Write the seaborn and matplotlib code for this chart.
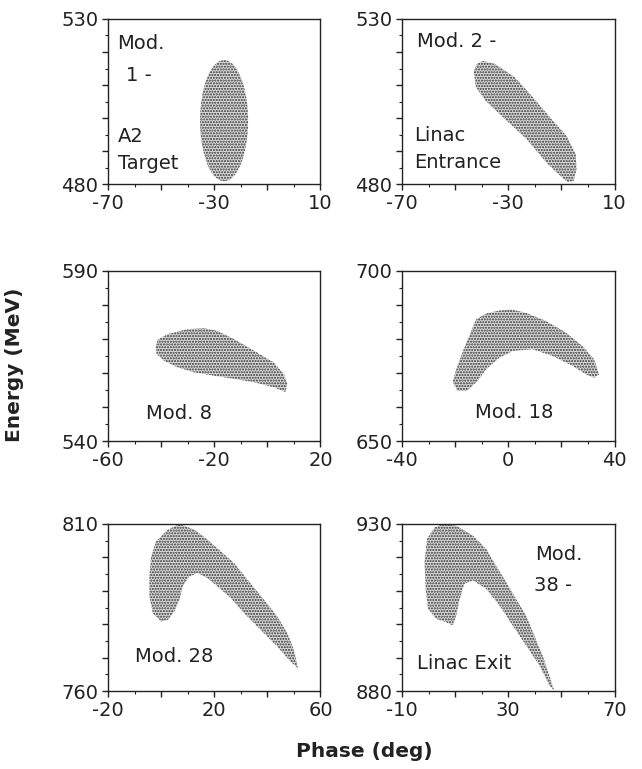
import matplotlib
matplotlib.use("Agg")
import matplotlib.pyplot as plt
from matplotlib.patches import Ellipse, Polygon
from matplotlib.ticker import FixedLocator, FuncFormatter
import seaborn as sns

sns.set_style("ticks")
plt.rcParams['font.family'] = ['DejaVu Sans']
plt.rcParams['hatch.linewidth'] = 1.0
plt.rcParams['hatch.color'] = '#333333'

# ---- data -------------------------------------------------------------
# axis ranges (phase, energy)
xlims = [(-70, 10), (-70, 10), (-60, 20), (-40, 40), (-20, 60), (-10, 70)]
ylims = [(480, 530), (480, 530), (540, 590), (650, 700), (760, 810), (880, 930)]

# Mod. 1 (A2 target): upright ellipse  (centre phase, centre energy, width, height)
mod1_ellipse = (-26.3, 499.2, 18.1, 36.7)

# Mod. 2 (linac entrance) boundary
mod2_phase = [-41.8, -43.0, -42.2, -38.5, -31.3, -23.1, -15.2, -9.9, -7.7,
              -5.4, -4.3, -4.6, -8.0, -14.4, -21.2, -27.6, -35.1, -39.6]
mod2_energy = [516.4, 514.2, 509.4, 505.2, 499.7, 493.6, 486.1, 482.1, 480.6,
               480.9, 484.5, 489.1, 494.5, 500.3, 506.7, 512.4, 516.4, 517.3]

# Mod. 8 boundary
mod8_phase = [-42.1, -41.4, -37.7, -30.2, -23.9, -18.9, -12.6, -5.1, 2.4, 6.2,
              7.5, 6.8, 2.4, -5.1, -12.6, -20.1, -27.6, -33.9, -38.9, -41.7]
mod8_energy = [567.5, 569.7, 571.4, 572.9, 573.2, 572.4, 570.0, 566.6, 563.1, 559.7,
               556.8, 554.4, 555.8, 557.3, 558.3, 559.2, 560.2, 561.7, 563.6, 565.6]

# Mod. 18 boundary
mod18_phase = [-20.2, -20.9, -19.0, -15.8, -12.1, -8.3, -3.3, 1.1, 6.7, 14.2, 21.7,
               28.0, 32.3, 34.2, 32.3, 29.2, 24.2, 16.7, 9.2, 1.7, -3.3, -8.3,
               -12.1, -15.8, -19.0]
mod18_energy = [666.2, 667.6, 672.5, 678.9, 685.8, 687.5, 688.4, 688.7, 687.7, 685.3,
                681.9, 677.9, 674.0, 669.6, 668.6, 669.6, 672.1, 675.0, 677.0, 676.5,
                674.5, 671.1, 667.2, 664.7, 664.7]

# Mod. 28 boundary
mod28_phase = [6.9, 12.5, 17.5, 22.5, 27.5, 32.5, 38.75, 43.75, 47.5, 50.0, 51.5,
               48.75, 43.75, 37.5, 31.25, 26.25, 21.25, 17.5, 13.75, 10.6, 8.1, 6.9,
               5.0, 2.5, 0.0, -3.1, -4.4, -4.4, -3.75, -1.9, 2.5]
mod28_energy = [810.0, 808.3, 805.3, 801.8, 798.3, 793.3, 787.3, 782.3, 777.3, 772.3,
                766.8, 768.8, 773.3, 778.3, 783.3, 787.8, 791.3, 793.8, 795.3, 794.3,
                791.3, 787.3, 783.8, 781.3, 780.8, 783.3, 788.3, 794.3, 800.3, 804.8,
                808.3]

# Mod. 38 (linac exit) boundary
mod38_phase = [5.4, 10.4, 16.7, 21.7, 25.4, 29.2, 32.9, 36.7, 39.8, 42.9, 45.4, 47.3,
               45.4, 41.7, 36.7, 31.7, 26.7, 21.7, 16.7, 13.5, 11.7, 10.4, 9.1, 6.6,
               2.9, -0.2, -1.1, -1.5, -0.6, 2.3]
mod38_energy = [930.0, 929.5, 926.5, 922.5, 917.5, 912.6, 907.6, 902.6, 896.6, 890.7,
                884.7, 880.2, 881.7, 887.7, 893.6, 899.6, 905.6, 910.6, 913.1, 912.1,
                907.6, 902.6, 899.6, 900.6, 901.6, 904.6, 910.6, 918.5, 925.5, 929.0]

# panel annotations: (text, phase, energy)
labels = [
    [("Mod.", -66.6, 522.5), ("1 -", -63.4, 512.9), ("A2", -66.3, 494.4), ("Target", -66.3, 486.3)],
    [("Mod. 2 -", -64.4, 523.1), ("Linac", -65.4, 494.6), ("Entrance", -65.4, 486.4)],
    [("Mod. 8", -45.8, 548.0)],
    [("Mod. 18", -12.7, 658.3)],
    [("Mod. 28", -10.0, 770.3)],
    [("Mod.", 40.2, 921.0), ("38 -", 39.8, 911.6), ("Linac Exit", -4.4, 888.2)],
]

shapes = [None,
          (mod2_phase, mod2_energy),
          (mod8_phase, mod8_energy),
          (mod18_phase, mod18_energy),
          (mod28_phase, mod28_energy),
          (mod38_phase, mod38_energy)]

# ---- layout -------------------------------------------------------------
fig = plt.figure(figsize=(6.42, 7.69), dpi=100)
col_left = [0.1682, 0.6262]
col_w = 0.331
row_bottom = [0.7607, 0.4265, 0.1014]
row_h = [0.2146, 0.2211, 0.2172]

fill_kw = dict(facecolor='#d9d9d9', edgecolor='#333333', hatch='......', linewidth=0)

for i in range(6):
    r, c = divmod(i, 2)
    ax = fig.add_axes([col_left[c], row_bottom[r], col_w, row_h[r]])
    x0, x1 = xlims[i]
    y0, y1 = ylims[i]
    ax.set_xlim(x0, x1)
    ax.set_ylim(y0, y1)

    if i == 0:
        cx, cy, w, h = mod1_ellipse
        ax.add_patch(Ellipse((cx, cy), w, h, **fill_kw))
    else:
        px, py = shapes[i]
        ax.add_patch(Polygon(list(zip(px, py)), closed=True, **fill_kw))

    for txt, tx, ty in labels[i]:
        ax.text(tx, ty, txt, fontsize=14, ha='left', va='center', color='#222222')

    # ticks: majors every 20 deg / 10 MeV starting at the axis minimum
    ax.xaxis.set_major_locator(FixedLocator(list(range(x0, x1 + 1, 20))))
    ax.xaxis.set_minor_locator(FixedLocator(list(range(x0, x1 + 1, 10))))
    ax.yaxis.set_major_locator(FixedLocator(list(range(y0, y1 + 1, 10))))
    ax.yaxis.set_minor_locator(FixedLocator(list(range(y0, y1 + 1, 5))))
    xl = (x0, (x0 + x1) / 2, x1)
    ax.xaxis.set_major_formatter(FuncFormatter(
        lambda v, p, xl=xl: f"{v:g}" if any(abs(v - q) < 1e-6 for q in xl) else ""))
    ax.yaxis.set_major_formatter(FuncFormatter(
        lambda v, p, a=y0, b=y1: f"{v:g}" if (abs(v - a) < 1e-6 or abs(v - b) < 1e-6) else ""))
    ax.tick_params(which='major', direction='out', length=4, width=1, labelsize=14,
                   color='#222222', labelcolor='#222222', pad=3)
    ax.tick_params(which='minor', direction='out', length=2.5, width=0.8, color='#222222')
    for s in ax.spines.values():
        s.set_visible(True)
        s.set_linewidth(1.0)
        s.set_color('#222222')

fig.text(0.023, 0.525, "Energy (MeV)", rotation=90, ha='center', va='center',
         fontsize=14.5, fontweight='bold', color='#222222')
fig.text(0.567, 0.023, "Phase (deg)", ha='center', va='center',
         fontsize=14.5, fontweight='bold', color='#222222')

fig.savefig("out.png", dpi=100, facecolor='white')
